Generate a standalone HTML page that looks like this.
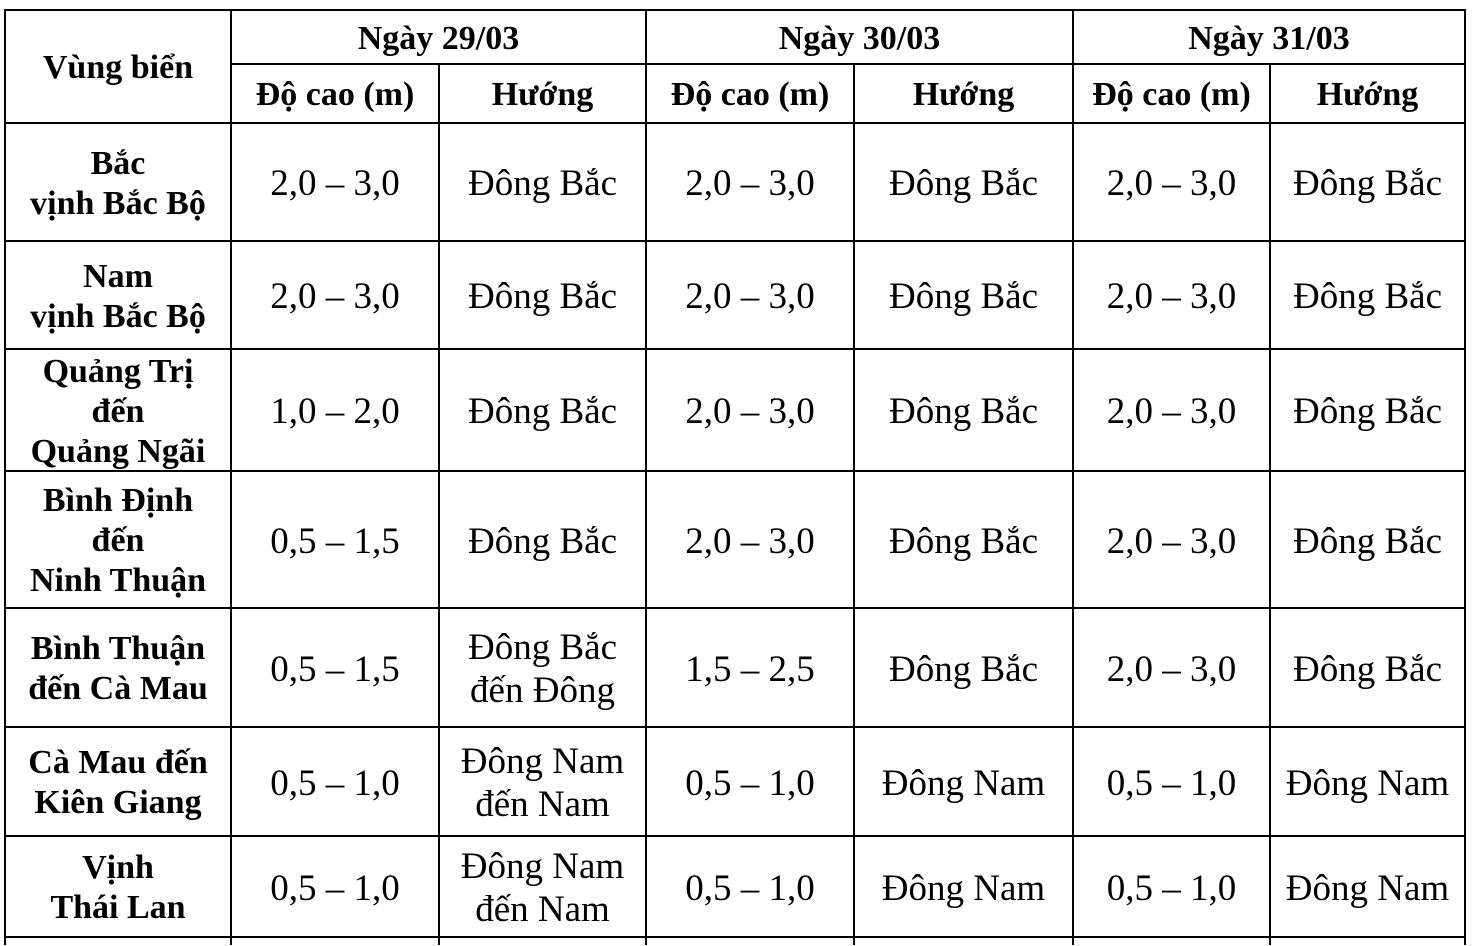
<!DOCTYPE html>
<html><head><meta charset="utf-8"><style>
body{margin:0;width:1474px;height:946px;background:#fff;position:relative;overflow:hidden;font-family:"Liberation Serif",serif;color:#000}
.l{position:absolute;background:#000}
.c{position:absolute;display:flex;align-items:center;justify-content:center;text-align:center;font-size:37px;line-height:43px;padding-top:3px;box-sizing:border-box}
.b{font-weight:bold;font-size:34px;line-height:40px}
</style></head><body>
<div id="g"></div>
<script>
const X=[5,231,439,646,854,1073,1270,1465],Y=[10,64,123,241,349,471,608,727,836,937];
let h='';
function L(x,y,w,hh){h+=`<div class="l" style="left:${x}px;top:${y}px;width:${w}px;height:${hh}px"></div>`;}
function C(x1,y1,x2,y2,t,b){h+=`<div class="c${b?' b':''}" style="left:${x1}px;top:${y1}px;width:${x2-x1}px;height:${y2-y1}px">${t}</div>`;}
Y.forEach((y,i)=>{ if(i==1) L(X[1]-1,y-1,X[7]-X[1]+2,2); else L(X[0]-1,y-1,X[7]-X[0]+2,2);});
X.forEach((x,i)=>{ if(i==2||i==4||i==6) L(x-1,Y[1]-1,2,946-Y[1]); else L(x-1,Y[0]-1,2,946-Y[0]);});
C(X[0],Y[0],X[1],Y[2],'Vùng biển',1);
['Ngày 29/03','Ngày 30/03','Ngày 31/03'].forEach((t,i)=>C(X[1+2*i],Y[0],X[3+2*i],Y[1],t,1));
for(let i=0;i<3;i++){C(X[1+2*i],Y[1],X[2+2*i],Y[2],'Độ cao (m)',1);C(X[2+2*i],Y[1],X[3+2*i],Y[2],'Hướng',1);}
const DB='Đông Bắc',DN='Đông Nam';
const rows=[
['Bắc<br>vịnh Bắc Bộ','2,0 – 3,0',DB,'2,0 – 3,0',DB,'2,0 – 3,0',DB],
['Nam<br>vịnh Bắc Bộ','2,0 – 3,0',DB,'2,0 – 3,0',DB,'2,0 – 3,0',DB],
['Quảng Trị<br>đến<br>Quảng Ngãi','1,0 – 2,0',DB,'2,0 – 3,0',DB,'2,0 – 3,0',DB],
['Bình Định<br>đến<br>Ninh Thuận','0,5 – 1,5',DB,'2,0 – 3,0',DB,'2,0 – 3,0',DB],
['Bình Thuận<br>đến Cà Mau','0,5 – 1,5','Đông Bắc<br>đến Đông','1,5 – 2,5',DB,'2,0 – 3,0',DB],
['Cà Mau đến<br>Kiên Giang','0,5 – 1,0','Đông Nam<br>đến Nam','0,5 – 1,0',DN,'0,5 – 1,0',DN],
['Vịnh<br>Thái Lan','0,5 – 1,0','Đông Nam<br>đến Nam','0,5 – 1,0',DN,'0,5 – 1,0',DN]];
rows.forEach((r,i)=>r.forEach((t,j)=>C(X[j],Y[i+2],X[j+1],Y[i+3],t,j==0)));
document.getElementById('g').innerHTML=h;
</script>
</body></html>
